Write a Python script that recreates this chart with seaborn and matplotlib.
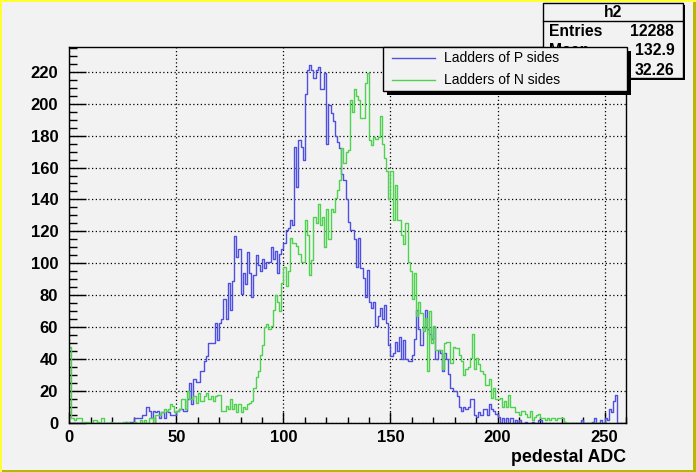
import numpy as np
import pandas as pd
import matplotlib
matplotlib.use("Agg")
import matplotlib.pyplot as plt
import seaborn as sns
from matplotlib.patches import Rectangle
from matplotlib.lines import Line2D
from matplotlib.ticker import MultipleLocator

# pedestal counts per ADC channel (1 channel per bin, 0..259)
p_counts = [
    0, 0, 0, 0, 0, 0, 0, 0, 0, 0, 0, 0, 0, 0, 0, 0, 0, 0, 0, 0,
    0, 0, 0, 0, 0, 0, 1, 0, 1, 1, 3, 3, 3, 3, 5, 5, 10, 8, 3, 8,
    7, 8, 3, 7, 3, 8, 7, 5, 5, 5, 8, 9, 9, 8, 8, 15, 25, 12, 28, 26,
    26, 33, 33, 39, 42, 50, 50, 50, 63, 52, 63, 65, 78, 65, 88, 71, 89, 117, 104, 109,
    81, 94, 87, 107, 94, 79, 93, 105, 99, 95, 103, 97, 101, 101, 110, 103, 108, 94, 106, 109,
    113, 121, 122, 127, 124, 173, 148, 177, 173, 165, 206, 221, 224, 221, 216, 221, 223, 209, 209, 219,
    175, 199, 194, 189, 180, 176, 172, 156, 152, 140, 126, 121, 121, 115, 98, 116, 97, 91, 79, 96,
    76, 72, 76, 61, 67, 72, 65, 74, 63, 49, 42, 44, 51, 45, 54, 40, 52, 40, 39, 39,
    43, 53, 71, 59, 49, 60, 71, 59, 56, 53, 60, 40, 46, 44, 33, 44, 40, 31, 22, 20,
    20, 17, 10, 8, 10, 9, 10, 15, 15, 5, 4, 7, 5, 9, 9, 5, 12, 9, 8, 6,
    4, 0, 3, 0, 3, 0, 3, 0, 2, 0, 2, 0, 0, 1, 0, 0, 1, 0, 0, 2,
    2, 0, 0, 0, 0, 0, 0, 0, 0, 0, 0, 0, 0, 0, 0, 0, 0, 0, 0, 2,
    0, 0, 0, 0, 1, 3, 0, 0, 2, 0, 3, 2, 9, 7, 14, 18, 0, 0, 0, 0,
]
n_counts = [
    48, 3, 2, 3, 3, 3, 0, 1, 1, 0, 0, 2, 2, 1, 0, 3, 0, 0, 0, 1,
    0, 0, 0, 0, 0, 1, 0, 1, 0, 0, 1, 0, 0, 2, 0, 2, 0, 3, 3, 0,
    5, 5, 5, 7, 9, 8, 9, 12, 11, 7, 8, 9, 15, 15, 9, 20, 15, 15, 17, 13,
    19, 14, 14, 17, 19, 15, 17, 14, 17, 18, 18, 8, 8, 11, 9, 15, 9, 12, 7, 12,
    7, 10, 9, 12, 13, 14, 22, 29, 33, 43, 49, 60, 62, 59, 61, 71, 80, 76, 70, 88,
    98, 86, 95, 116, 113, 113, 111, 106, 101, 101, 127, 118, 93, 102, 129, 125, 137, 124, 129, 110,
    134, 115, 134, 132, 141, 146, 152, 172, 163, 170, 171, 202, 195, 209, 205, 202, 191, 191, 213, 219,
    177, 174, 179, 178, 179, 192, 175, 166, 158, 140, 158, 127, 149, 127, 127, 118, 112, 125, 101, 95,
    78, 94, 67, 76, 69, 58, 66, 33, 70, 50, 61, 46, 46, 46, 34, 50, 51, 51, 38, 48,
    47, 47, 43, 39, 30, 34, 35, 41, 56, 34, 41, 37, 33, 31, 24, 24, 28, 16, 22, 15,
    15, 16, 10, 14, 10, 18, 10, 10, 7, 7, 5, 8, 8, 6, 4, 8, 2, 4, 5, 6,
    3, 3, 2, 3, 2, 3, 3, 2, 3, 3, 3, 1, 0, 0, 0, 0, 0, 0, 0, 0,
    0, 0, 0, 0, 0, 0, 0, 0, 0, 0, 0, 0, 0, 0, 0, 0, 0, 0, 0, 0,
]
series_names = ["Ladders of P sides", "Ladders of N sides"]
stats_rows = [("Entries", "12288"), ("Mean", "132.9"), ("RMS", "32.26")]

bg = "#f2f2f2"
blue = "#4f4fe0"
green = "#4fd24f"

plt.rcParams["font.family"] = ["Liberation Sans", "DejaVu Sans"]

nbins = len(p_counts)
centers = np.arange(nbins) + 0.5
df = pd.DataFrame({"adc": centers, "P": p_counts, "N": n_counts})

fig = plt.figure(figsize=(6.96, 4.72), dpi=100, facecolor=bg)
ax = fig.add_axes([0.0996, 0.1032, 0.7998, 0.7966], facecolor=bg)

sns.histplot(data=df, x="adc", weights="P", binwidth=1, binrange=(0, nbins),
             element="step", fill=False, color=blue, linewidth=1.0, ax=ax)
sns.histplot(data=df, x="adc", weights="N", binwidth=1, binrange=(0, nbins),
             element="step", fill=False, color=green, linewidth=1.0, ax=ax)

ax.set_xlim(0, nbins)
ax.set_ylim(0, max(max(p_counts), max(n_counts)) * 1.05)
ax.xaxis.set_major_locator(MultipleLocator(50))
ax.xaxis.set_minor_locator(MultipleLocator(10))
ax.yaxis.set_major_locator(MultipleLocator(20))
ax.yaxis.set_minor_locator(MultipleLocator(5))
ax.grid(True, which="major", color="black", linestyle=(0, (1, 2)), linewidth=0.9)
ax.set_axisbelow(True)
ax.tick_params(axis="x", which="major", direction="in", length=8, width=1, pad=5,
               labelsize=12)
ax.tick_params(axis="x", which="minor", direction="in", length=4, width=1)
ax.tick_params(axis="y", which="major", direction="in", length=12, width=1, pad=8,
               labelsize=12)
ax.tick_params(axis="y", which="minor", direction="in", length=6, width=1)
for lab in ax.get_xticklabels() + ax.get_yticklabels():
    lab.set_fontweight("bold")
for sp in ax.spines.values():
    sp.set_color("black")
    sp.set_linewidth(1.0)

ax.set_ylabel("")
ax.set_xlabel("pedestal ADC", fontsize=12.8, fontweight="bold", loc="right")
ax.xaxis.set_label_coords(1.0, -0.068)
ax.xaxis.label.set_va("top")

W, H = 696.0, 472.0


def fx(px):
    return px / W


def fy(py):
    return 1 - py / H


# stats box
sx0, sx1, sy0, sy1 = 542.7, 682.7, 2.7, 78.3
fig.add_artist(Rectangle((fx(sx0 + 2), fy(sy1 + 2)), fx(sx1 - sx0), (sy1 - sy0) / H,
                         transform=fig.transFigure, facecolor="black",
                         edgecolor="none", zorder=5))
fig.add_artist(Rectangle((fx(sx0), fy(sy1)), fx(sx1 - sx0), (sy1 - sy0) / H,
                         transform=fig.transFigure, facecolor=bg,
                         edgecolor="black", linewidth=1.0, zorder=5.1))
fig.add_artist(Line2D([fx(sx0), fx(sx1)], [fy(21.3), fy(21.3)],
                      transform=fig.transFigure, color="black", lw=1.0, zorder=5.2))
fig.text(fx(612.7), fy(12.5), "h2", ha="center", va="center", fontsize=11.3,
         fontweight="bold", zorder=6)
for i, (name, val) in enumerate(stats_rows):
    yy = fy(31.7 + i * 19.2)
    fig.text(fx(549.3), yy, name, ha="left", va="center", fontsize=11.3,
             fontweight="bold", zorder=6)
    fig.text(fx(674.3), yy, val, ha="right", va="center", fontsize=11.3,
             fontweight="bold", zorder=6)

# legend box
lx0, lx1, ly0, ly1 = 383.3, 626.7, 47.3, 91.0
fig.add_artist(Rectangle((fx(lx0 + 4), fy(ly1 + 4)), fx(lx1 - lx0), (ly1 - ly0) / H,
                         transform=fig.transFigure, facecolor="black",
                         edgecolor="none", zorder=7))
fig.add_artist(Rectangle((fx(lx0), fy(ly1)), fx(lx1 - lx0), (ly1 - ly0) / H,
                         transform=fig.transFigure, facecolor=bg,
                         edgecolor="black", linewidth=1.0, zorder=7.1))
for i, (name, col) in enumerate(zip(series_names, [blue, green])):
    yy = fy(58.3 + i * 21.7)
    fig.add_artist(Line2D([fx(391.7), fx(435)], [yy, yy], transform=fig.transFigure,
                          color=col, lw=1.0, zorder=8))
    fig.text(fx(444), yy, name, ha="left", va="center", fontsize=10, zorder=8)

# canvas bevel border
fig.add_artist(Rectangle((0, 0), 1, 2.5 / H, transform=fig.transFigure,
                         facecolor="#b8b800", edgecolor="none", zorder=10))
fig.add_artist(Rectangle((1 - 3 / W, 0), 3 / W, 1, transform=fig.transFigure,
                         facecolor="#b8b800", edgecolor="none", zorder=10))
fig.add_artist(Rectangle((0, 1 - 2 / H), 1, 2 / H, transform=fig.transFigure,
                         facecolor="#ffff33", edgecolor="none", zorder=10))
fig.add_artist(Rectangle((0, 0), 2 / W, 1, transform=fig.transFigure,
                         facecolor="#ffff33", edgecolor="none", zorder=10))

fig.savefig("out.png", dpi=100, facecolor=bg)
